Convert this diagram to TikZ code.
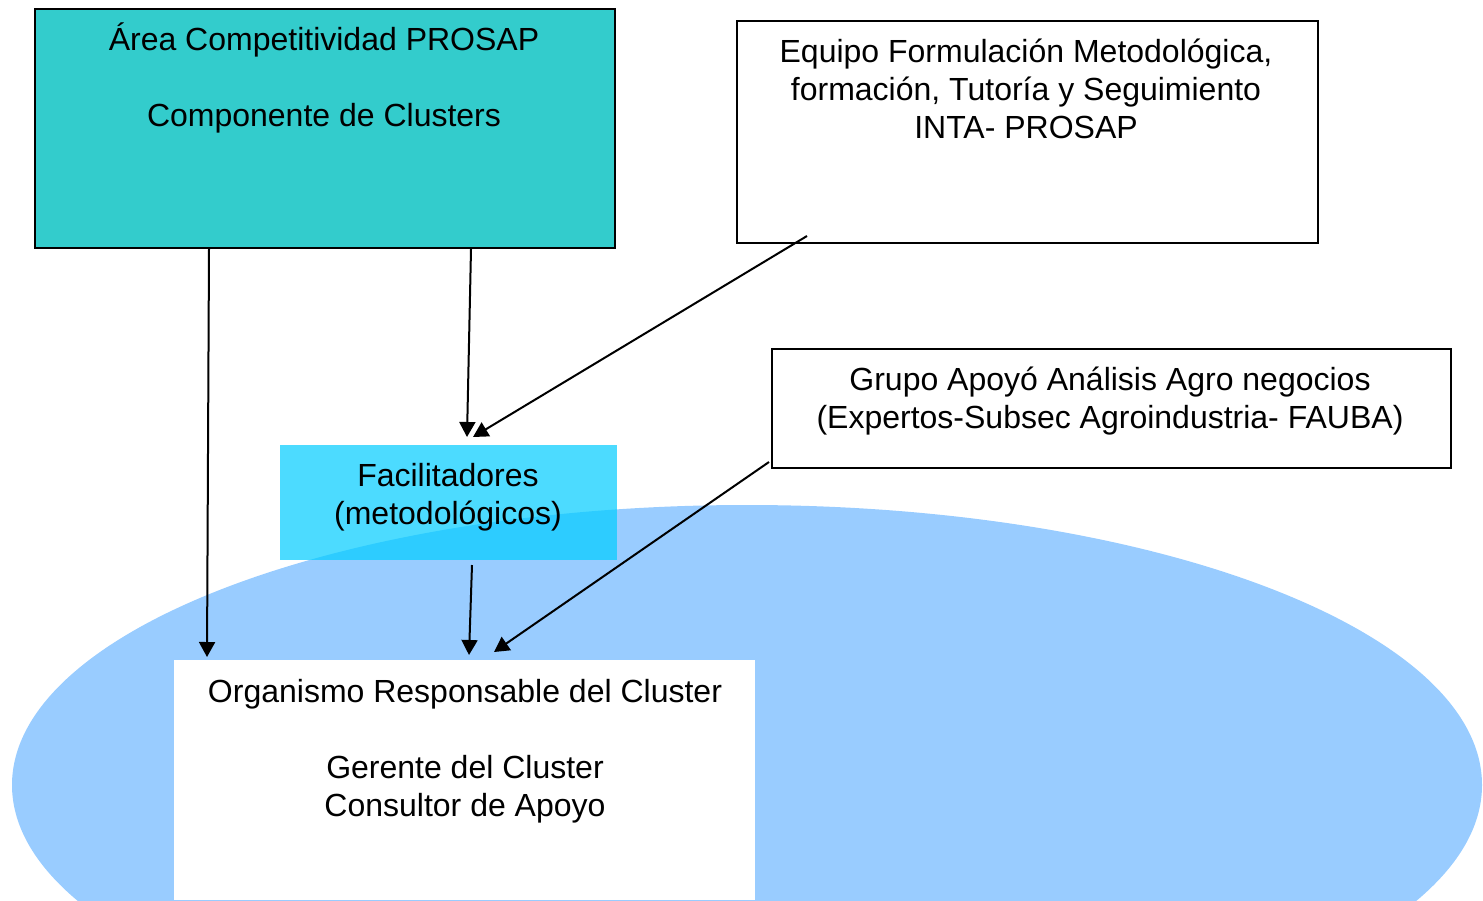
\documentclass[tikz,border=0pt]{standalone}
\usepackage{fontspec}
\setmainfont{Liberation Sans}
\usetikzlibrary{arrows.meta}
\definecolor{tealbox}{HTML}{33CCCC}
\definecolor{ellcol}{HTML}{99CCFF}
\definecolor{facilcol}{HTML}{00CCFF}
\begin{document}
\begin{tikzpicture}[x=0.5pt,y=-0.5pt,
  box/.style={draw=black, line width=1pt, inner sep=0pt, anchor=north west},
  plain/.style={inner sep=0pt, anchor=north west},
  txt/.style={font=\fontsize{16}{19}\selectfont, align=center, inner sep=0pt, anchor=base},
  arr/.style={line width=1pt, -{Triangle[length=7.5pt,width=8pt]}}]
\useasboundingbox (0,0) rectangle (1483,900);
\begin{scope}
  \clip (0,0) rectangle (1483,900);
  \fill[ellcol] (747,785) ellipse [x radius=367.5pt, y radius=140pt];
\end{scope}
% boxes
\node[plain, fill=white, minimum width=290.5pt, minimum height=120pt] (org) at (174,660) {};
\node[plain, fill=facilcol, fill opacity=0.7, minimum width=168.5pt, minimum height=57.5pt] (facil) at (280,445) {};
\node[box, fill=tealbox, minimum width=290pt, minimum height=119.5pt] (area) at (34,8) {};
\node[box, fill=white, minimum width=290.5pt, minimum height=111pt] (equipo) at (736,20) {};
\node[box, fill=white, minimum width=339.5pt, minimum height=59.5pt] (grupo) at (771,348) {};
% texts (anchor = baseline of last line)
\node[txt] (areat) at (324,126) {Área Competitividad PROSAP\\[19pt]Componente de Clusters};
\node[txt] (equipot) at (1026,138) {Equipo Formulación Metodológica,\\formación, Tutoría y Seguimiento\\INTA- PROSAP};
\node[txt] (grupot) at (1110,428) {Grupo Apoyó Análisis Agro negocios\\(Expertos-Subsec Agroindustria- FAUBA)};
\node[txt] (facilt) at (448,524) {Facilitadores\\(metodológicos)};
\node[txt] (orgt) at (465,816) {Organismo Responsable del Cluster\\[19pt]Gerente del Cluster\\Consultor de Apoyo};
% arrow end points
\coordinate (a1s) at (209,249);
\coordinate (a1e) at (207,657);
\coordinate (a2s) at (471,249);
\coordinate (a2e) at (467,437);
\coordinate (a3s) at (807,236);
\coordinate (a3e) at (473,437);
\coordinate (a4s) at (472,565);
\coordinate (a4e) at (469,655);
\coordinate (a5s) at (769,462);
\coordinate (a5e) at (494,652);
\draw[arr] (a1s) -- (a1e);
\draw[arr] (a2s) -- (a2e);
\draw[arr] (a3s) -- (a3e);
\draw[arr] (a4s) -- (a4e);
\draw[arr] (a5s) -- (a5e);
\end{tikzpicture}
\end{document}
